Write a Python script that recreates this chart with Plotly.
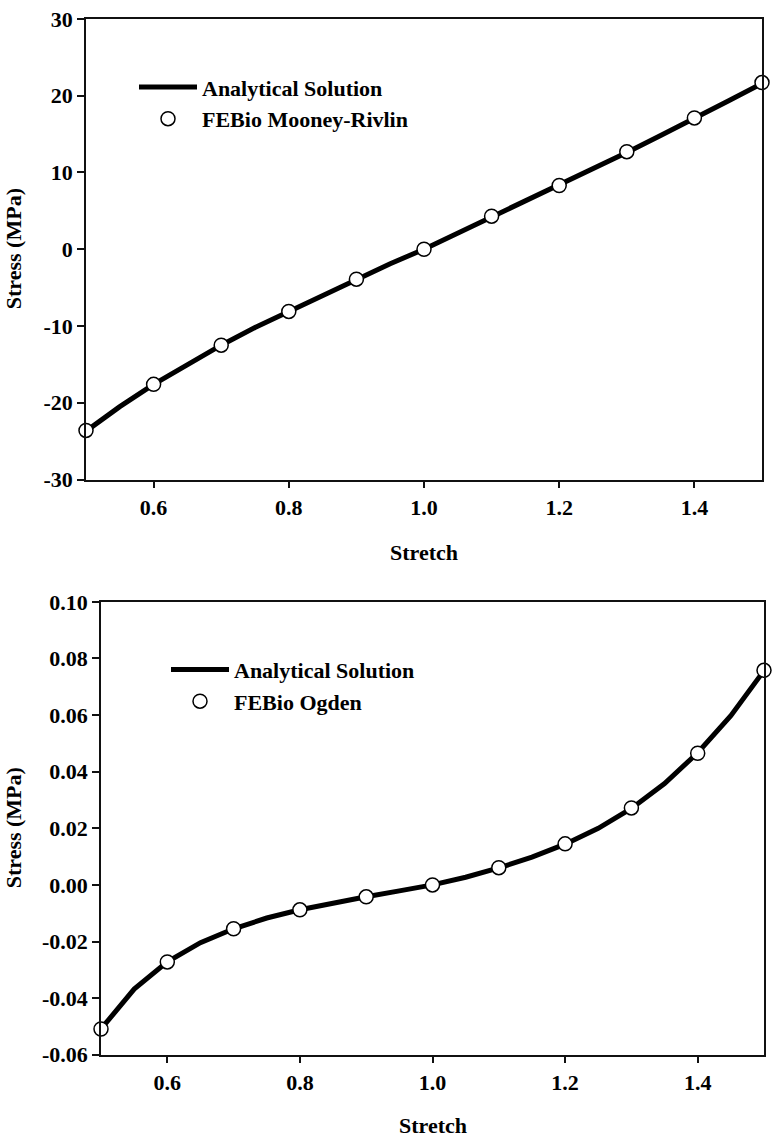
import plotly.graph_objects as go

# ---------------- data ----------------
stretch_line = [0.50, 0.55, 0.60, 0.65, 0.70, 0.75, 0.80, 0.85, 0.90, 0.95, 1.00,
                1.05, 1.10, 1.15, 1.20, 1.25, 1.30, 1.35, 1.40, 1.45, 1.50]
stretch_pts = [0.5, 0.6, 0.7, 0.8, 0.9, 1.0, 1.1, 1.2, 1.3, 1.4, 1.5]

mr_analytical = [-23.7, -20.5, -17.6, -15.0, -12.5, -10.2, -8.1, -6.0, -3.9, -1.9, 0.0,
                 2.1, 4.2, 6.2, 8.3, 10.5, 12.6, 14.8, 17.0, 19.3, 21.6]
mr_febio = [-23.6, -17.6, -12.5, -8.1, -3.9, 0.0, 4.3, 8.3, 12.7, 17.1, 21.7]

og_analytical = [-0.0509, -0.0368, -0.0272, -0.0204, -0.0155, -0.0117, -0.0088, -0.0063,
                 -0.0042, -0.0021, 0.0, 0.0027, 0.0060, 0.0098, 0.0144, 0.0200, 0.0270,
                 0.0358, 0.0467, 0.0598, 0.0757]
og_febio = [-0.0509, -0.0272, -0.0155, -0.0088, -0.0042, 0.0, 0.0061, 0.0145, 0.0272,
            0.0465, 0.0758]

x_tickvals = [0.6, 0.8, 1.0, 1.2, 1.4]
x_ticktext = ["0.6", "0.8", "1.0", "1.2", "1.4"]
y1_tickvals = [-30, -20, -10, 0, 10, 20, 30]
y1_ticktext = ["-30", "-20", "-10", "0", "10", "20", "30"]
y2_tickvals = [-0.06, -0.04, -0.02, 0.0, 0.02, 0.04, 0.06, 0.08, 0.10]
y2_ticktext = ["-0.06", "-0.04", "-0.02", "0.00", "0.02", "0.04", "0.06", "0.08", "0.10"]

# ---------------- figure ----------------
W, H = 772, 1146
FONT = "Liberation Serif, Times New Roman, serif"
FS = 22
fig = go.Figure()

line_style = dict(color="black", width=5)
marker_style = dict(symbol="circle", size=14, color="white",
                    line=dict(color="black", width=1.5))

fig.add_trace(go.Scatter(x=stretch_line, y=mr_analytical, mode="lines", line=line_style,
                         name="Analytical Solution", xaxis="x", yaxis="y", legend="legend"))
fig.add_trace(go.Scatter(x=stretch_pts, y=mr_febio, mode="markers", marker=marker_style,
                         name="FEBio Mooney-Rivlin", xaxis="x", yaxis="y", legend="legend",
                         cliponaxis=False))
fig.add_trace(go.Scatter(x=stretch_line, y=og_analytical, mode="lines", line=line_style,
                         name="Analytical Solution", xaxis="x2", yaxis="y2", legend="legend2"))
fig.add_trace(go.Scatter(x=stretch_pts, y=og_febio, mode="markers", marker=marker_style,
                         name="FEBio Ogden", xaxis="x2", yaxis="y2", legend="legend2",
                         cliponaxis=False))

tickfont = dict(family=FONT, size=FS, color="black", weight="bold")
axis_common = dict(showgrid=False, zeroline=False, showline=True, linecolor="#111",
                   linewidth=1.5, mirror=True, ticks="outside", ticklen=7, tickwidth=1.5,
                   tickcolor="#111", tickfont=tickfont)
legend_font = dict(family=FONT, size=FS, color="black", weight="bold")

fig.update_layout(
    width=W, height=H,
    margin=dict(l=0, r=0, t=0, b=0),
    paper_bgcolor="white", plot_bgcolor="white",
    showlegend=True,
    xaxis=dict(domain=[86 / W, 762 / W], range=[0.5, 1.5], anchor="y",
               tickvals=x_tickvals, ticktext=x_ticktext, **axis_common),
    yaxis=dict(domain=[1 - 478 / H, 1 - 7 / H], range=[-30, 30], anchor="x",
               tickvals=y1_tickvals, ticktext=y1_ticktext, **axis_common),
    xaxis2=dict(domain=[101 / W, 764 / W], range=[0.5, 1.5], anchor="y2",
                tickvals=x_tickvals, ticktext=x_ticktext, **axis_common),
    yaxis2=dict(domain=[1 - 1066 / H, 1 - 603 / H], range=[-0.06, 0.10], anchor="x2",
                tickvals=y2_tickvals, ticktext=y2_ticktext, **axis_common),
    legend=dict(x=134 / W, y=1 - 55.5 / H, xanchor="left", yanchor="top",
                bgcolor="rgba(0,0,0,0)", borderwidth=0, itemwidth=58,
                font=legend_font, tracegroupgap=0),
    legend2=dict(x=166 / W, y=1 - 651 / H, xanchor="left", yanchor="top",
                 bgcolor="rgba(0,0,0,0)", borderwidth=0, itemwidth=58,
                 font=legend_font, tracegroupgap=0),
)

title_font = dict(family=FONT, size=FS, color="black", weight="bold")
annotations = [
    dict(text="Stretch", x=(86 + 762) / 2 / W, y=1 - 553 / H),
    dict(text="Stretch", x=(101 + 764) / 2 / W, y=1 - 1138 / H),
    dict(text="Stress (MPa)", x=13 / W, y=1 - (7 + 478) / 2 / H, textangle=-90),
    dict(text="Stress (MPa)", x=13 / W, y=1 - (603 + 1066) / 2 / H, textangle=-90),
]
for a in annotations:
    fig.add_annotation(xref="paper", yref="paper", showarrow=False,
                       xanchor="center", yanchor="middle", font=title_font, **a)

fig.write_html(
    "out.html",
    config={"displayModeBar": False},
    post_script="document.body.style.margin='0';document.body.style.overflow='hidden';",
)
